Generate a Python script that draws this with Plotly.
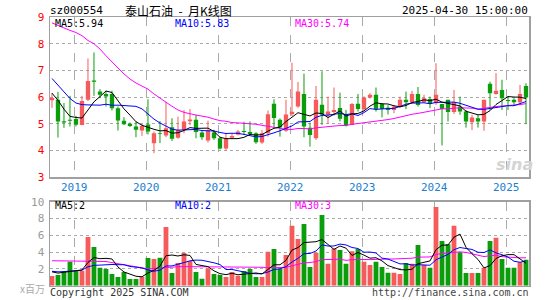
import plotly.graph_objects as go
import pandas as pd

# ---------------- data (monthly K, 2018-09 .. 2025-04) ----------------
opens = [5.88, 5.90, 5.10, 5.15, 5.18, 4.96, 5.90, 6.62, 6.21, 6.12,
         6.12, 5.58, 5.12, 5.00, 4.90, 4.75, 4.98, 4.27, 4.66, 4.56,
         4.87, 4.48, 4.77, 5.10, 5.15, 4.68, 4.38, 4.68, 4.46, 4.08,
         4.48, 4.60, 4.72, 4.70, 4.65, 4.30, 4.65, 5.75, 5.15, 4.74,
         5.36, 5.65, 6.12, 4.85, 4.46, 5.72, 5.34, 5.44, 5.59, 5.36,
         4.96, 5.75, 5.55, 5.99, 6.09, 5.74, 5.60, 5.52, 5.65, 5.90,
         5.81, 6.12, 5.81, 5.93, 5.77, 5.74, 5.90, 5.44, 5.65, 5.46,
         5.06, 5.21, 5.09, 6.50, 6.12, 6.27, 5.88, 5.90, 5.81, 6.42]
highs = [6.15, 6.20, 5.78, 6.05, 5.30, 6.05, 7.45, 7.67, 6.30, 6.24,
         6.24, 5.65, 5.25, 5.05, 5.09, 5.00, 5.92, 4.72, 5.10, 5.83,
         5.21, 5.27, 5.52, 5.55, 5.34, 4.75, 5.12, 4.78, 4.52, 4.65,
         4.66, 4.77, 5.08, 5.09, 4.69, 4.77, 5.50, 5.92, 5.20, 5.90,
         7.29, 6.57, 6.88, 5.05, 6.42, 6.97, 6.02, 6.36, 6.17, 5.52,
         5.78, 6.12, 6.03, 6.15, 6.36, 5.78, 5.70, 5.71, 6.02, 6.21,
         6.24, 6.38, 6.09, 6.02, 7.27, 5.75, 5.90, 6.27, 6.02, 5.52,
         5.34, 5.34, 5.90, 6.58, 6.90, 6.65, 6.02, 5.96, 6.46, 6.52]
lows = [5.60, 4.49, 4.85, 4.90, 4.90, 4.95, 5.85, 6.05, 5.96, 5.65,
        5.50, 4.75, 4.95, 4.88, 4.50, 4.55, 4.60, 3.90, 4.28, 4.50,
        4.36, 4.44, 4.65, 4.95, 4.46, 4.40, 4.30, 4.40, 4.04, 4.00,
        4.43, 4.57, 4.60, 4.58, 4.25, 4.25, 4.52, 4.85, 4.52, 4.70,
        5.28, 5.60, 4.50, 4.15, 4.40, 4.96, 5.00, 5.30, 5.09, 4.90,
        4.96, 5.46, 5.47, 5.95, 5.46, 5.24, 5.35, 5.40, 5.60, 5.55,
        5.77, 5.65, 5.80, 5.59, 5.71, 4.19, 5.09, 5.37, 5.34, 4.86,
        4.77, 4.86, 4.74, 5.52, 6.09, 5.52, 5.52, 5.70, 5.71, 4.99]
closes = [5.97, 5.09, 5.05, 5.12, 4.97, 5.86, 6.60, 6.58, 6.09, 6.02,
          5.58, 5.13, 4.99, 4.92, 4.78, 4.92, 4.71, 4.65, 4.63, 4.84,
          4.44, 4.77, 5.09, 5.16, 4.70, 4.50, 4.75, 4.46, 4.08, 4.44,
          4.55, 4.71, 4.70, 4.62, 4.31, 4.65, 5.36, 5.22, 4.86, 5.35,
          5.45, 6.21, 4.90, 4.58, 5.90, 5.34, 5.46, 5.52, 5.19, 4.94,
          5.74, 5.56, 5.99, 6.09, 5.56, 5.56, 5.52, 5.65, 5.90, 5.81,
          6.12, 5.71, 5.96, 5.74, 6.09, 5.56, 5.44, 5.81, 5.46, 5.09,
          5.24, 5.09, 5.90, 6.15, 6.24, 5.96, 5.86, 5.81, 6.12, 5.99]
volumes = [1.15, 1.27, 1.67, 2.86, 1.75, 1.79, 5.79, 4.60, 2.14, 1.98,
           1.39, 1.03, 1.63, 0.79, 0.79, 1.07, 3.29, 3.17, 3.33, 6.98,
           1.50, 2.70, 3.89, 2.94, 1.63, 0.83, 2.06, 1.39, 1.27, 1.03,
           1.63, 1.19, 1.75, 1.98, 1.03, 1.03, 4.05, 4.37, 1.98, 3.65,
           7.14, 5.56, 7.34, 2.22, 3.93, 8.41, 2.62, 4.44, 4.25, 2.62,
           4.09, 4.37, 2.86, 2.46, 2.86, 2.22, 1.55, 1.55, 1.39, 2.70,
           2.62, 4.84, 2.46, 2.14, 9.37, 5.32, 4.92, 7.14, 3.97, 1.50,
           1.50, 1.50, 2.14, 5.32, 5.71, 3.17, 2.14, 2.14, 2.78, 3.10]

# moving-average values before enough history exists
ma5_head = [6.15, 5.88, 5.55, 5.28]
ma10_head = [6.70, 6.46, 6.19, 5.95, 5.78, 5.72, 5.71, 5.71, 5.70]
ma30_head = [8.78, 8.67, 8.59, 8.50, 8.42, 8.30, 8.12, 8.00, 7.80, 7.55,
             7.30, 7.09, 6.87, 6.68, 6.53, 6.42, 6.30, 6.12, 5.95, 5.81,
             5.66, 5.52, 5.43, 5.37, 5.33, 5.29, 5.25, 5.18, 5.12]
vma5_head = [1.65, 1.50, 1.60, 1.70]
vma10_head = [1.72, 1.65, 1.68, 1.75, 1.80, 1.85, 2.25, 2.42, 2.45]
vma30_head = [2.97, 2.96, 2.95, 2.94, 2.92, 2.90, 2.92, 2.95, 2.95, 2.88,
              2.75, 2.62, 2.50, 2.38, 2.25, 2.10, 2.00, 2.05, 2.12, 2.20,
              2.25, 2.26, 2.27, 2.27, 2.27, 2.26, 2.26, 2.26, 2.26]

years = ["2019", "2020", "2021", "2022", "2023", "2024", "2025"]
price_ticks = [3, 4, 5, 6, 7, 8, 9]
vol_ticks = [2, 4, 6, 8, 10]

title_code = "sz000554"
title_name = "泰山石油&nbsp; -&nbsp; 月K线图"
time_text = "2025-04-30 15:00:00"
price_ma_labels = ["MA5:5.94", "MA10:5.83", "MA30:5.74"]
vol_ma_labels = ["MA5:2", "MA10:2", "MA30:3"]
vol_unit = "x百万"
copyright_text = "Copyright 2025 SINA.COM"
url_text = "http://finance.sina.com.cn"

# ---------------- derived ----------------
n = len(closes)
idx = list(range(n))


def moving(vals, w, head):
    s = pd.Series(vals).rolling(w).mean().tolist()
    for k, h in enumerate(head):
        s[k] = h
    return s


ma5 = moving(closes, 5, ma5_head)
ma10 = moving(closes, 10, ma10_head)
ma30 = moving(closes, 30, ma30_head)
vma5 = moving(volumes, 5, vma5_head)
vma10 = moving(volumes, 10, vma10_head)
vma30 = moving(volumes, 30, vma30_head)

RED = "#f65b5b"
GREEN = "#0b9d0b"
up = [c >= o for o, c in zip(opens, closes)]
colors = [RED if u else GREEN for u in up]
bases = [min(o, c) for o, c in zip(opens, closes)]
heights = [max(abs(c - o), 0.03) for o, c in zip(opens, closes)]

fig = go.Figure()

for flag, col in ((True, RED), (False, GREEN)):
    wx, wy = [], []
    for i in idx:
        if up[i] == flag:
            wx += [i, i, None]
            wy += [lows[i], highs[i], None]
    fig.add_trace(go.Scatter(x=wx, y=wy, mode="lines",
                             line=dict(color=col, width=1),
                             hoverinfo="skip", xaxis="x", yaxis="y"))

fig.add_trace(go.Bar(x=idx, y=heights, base=bases, width=0.72,
                     marker=dict(color=colors, line=dict(width=0)),
                     xaxis="x", yaxis="y"))

for vals, col in ((ma30, "#ff00ff"), (ma10, "#0000ff"), (ma5, "#000000")):
    fig.add_trace(go.Scatter(x=idx, y=vals, mode="lines",
                             line=dict(color=col, width=1),
                             xaxis="x", yaxis="y"))

fig.add_trace(go.Bar(x=idx, y=volumes, width=0.8,
                     marker=dict(color=colors, line=dict(width=0)),
                     xaxis="x2", yaxis="y2"))
for vals, col in ((vma30, "#ff00ff"), (vma10, "#0000ff"), (vma5, "#000000")):
    fig.add_trace(go.Scatter(x=idx, y=vals, mode="lines",
                             line=dict(color=col, width=1),
                             xaxis="x2", yaxis="y2"))

# ---------------- layout ----------------
W, H = 545, 300
ML, MR, MT, MB = 50, 16, 17, 14
PW, PH = W - ML - MR, H - MT - MB


def px(x):
    return (x - ML) / PW


def py(y):
    return (H - MB - y) / PH


year_pos = [3.73 + 12 * k for k in range(len(years))]
xr = [-0.33, 79.5]
MONO = "DejaVu Sans Mono"
GRID = "#aaaaaa"
FRAME = "#a0a0a0"

common_x = dict(range=xr, tickvals=year_pos, showgrid=True, gridcolor=GRID,
                griddash="dash", gridwidth=1, zeroline=False, showline=True,
                mirror=True, linecolor=FRAME, linewidth=1.5, ticks="",
                showticklabels=False, automargin=False, fixedrange=True)
common_y = dict(showgrid=True, gridcolor=GRID, griddash="dot", zeroline=False,
                showline=True, mirror=True, linecolor=FRAME, linewidth=1.5,
                ticks="outside", ticklen=2, tickcolor="rgba(0,0,0,0)",
                automargin=False, fixedrange=True)
fig.update_layout(
    template="none",
    width=W, height=H, autosize=False,
    margin=dict(l=ML, r=MR, t=MT, b=MB, pad=0),
    paper_bgcolor="white", plot_bgcolor="white",
    showlegend=False, barmode="overlay", hovermode=False,
    xaxis=dict(domain=[0, 1], anchor="y", **common_x),
    yaxis=dict(domain=[py(177.3), 1.0], range=[3, 9], tickvals=price_ticks,
               tickfont=dict(family=MONO, size=11, color="#ff0000"), **common_y),
    xaxis2=dict(domain=[0, 1], anchor="y2", **common_x),
    yaxis2=dict(domain=[py(285.7), py(201.7)], range=[0, 10], tickvals=vol_ticks,
                tickfont=dict(family=MONO, size=11, color="#999999"), **common_y),
)


def label(text, x, y, color="#000", size=10, xanchor="left", family=MONO,
          xref="paper"):
    fig.add_annotation(text=text, x=px(x) if xref == "paper" else x, y=py(y),
                       xref=xref, yref="paper",
                       showarrow=False, xanchor=xanchor, yanchor="middle",
                       borderpad=0,
                       font=dict(family=family, size=size, color=color))


# year labels under the price panel, centred on the dashed year lines
for yr, pos in zip(years, year_pos):
    label(yr, pos, 187, color="#1a80d0", size=11, xanchor="center", xref="x")

label(title_code, 49, 11, size=11)
label(title_name, 178, 11, size=12, xanchor="center", family="Noto Sans CJK SC")
label(time_text, 529, 11, size=11, xanchor="right")

ma_cols = ["#000000", "#0000ff", "#ff00ff"]
ma_x = [54, 174, 294]
for t, c, x in zip(price_ma_labels, ma_cols, ma_x):
    label(t, x, 24, color=c, size=10)
for t, c, x in zip(vol_ma_labels, ma_cols, ma_x):
    label(t, x, 206, color=c, size=10)

label(vol_unit, 46, 288, color="#aaaaaa", size=10, xanchor="right",
      family="Noto Sans CJK SC")
label(copyright_text, 49, 292, color="#333333", size=10)
label(url_text, 530, 292, color="#444444", size=10, xanchor="right")
label("<b><i>sina</i></b>", 514, 164, color="#d4d4d4", size=16,
      xanchor="center", family="DejaVu Sans")

fig.write_html("out.html",
               config={"displayModeBar": False, "staticPlot": True},
               post_script="document.body.style.margin='0';"
                           "document.body.style.overflow='hidden';")
